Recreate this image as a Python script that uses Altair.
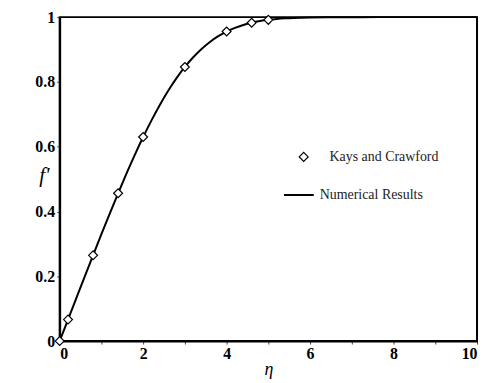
import altair as alt
import pandas as pd

# Numerical results (curve)
eta_num = [0, 0.2, 0.4, 0.6, 0.8, 1.0, 1.2, 1.4, 1.6, 1.8, 2.0, 2.2, 2.4, 2.6, 2.8,
           3.0, 3.2, 3.4, 3.6, 3.8, 4.0, 4.2, 4.4, 4.6, 4.8, 5.0, 5.2, 5.4, 5.6,
           5.8, 6.0, 6.4, 6.8, 7.2, 8.0, 9.0, 10.0]
fp_num = [0, 0.06641, 0.13277, 0.19894, 0.26471, 0.32979, 0.39378, 0.45627,
          0.51676, 0.57477, 0.62977, 0.68132, 0.72899, 0.77246, 0.81152,
          0.84605, 0.87609, 0.90177, 0.92333, 0.94112, 0.95552, 0.96696,
          0.97587, 0.98269, 0.98779, 0.99155, 0.99425, 0.99616, 0.99748,
          0.99838, 0.99898, 0.99961, 0.99987, 0.99996, 1.0, 1.0, 1.0]

# Kays and Crawford points
eta_kc = [0, 0.2, 0.8, 1.4, 2.0, 3.0, 4.0, 4.6, 5.0]
fp_kc = [0, 0.0664, 0.2647, 0.4563, 0.6298, 0.8461, 0.9555, 0.9827, 0.9916]

x_ticks = list(range(0, 11))
y_ticks = [i / 10 for i in range(0, 11)]

df_num = pd.DataFrame({"eta": eta_num, "fp": fp_num, "src": "Numerical Results"})
df_kc = pd.DataFrame({"eta": eta_kc, "fp": fp_kc, "src": "Kays and Crawford"})

W, H = 420, 326
serif = "Liberation Serif"

x_enc = alt.X("eta:Q", scale=alt.Scale(domain=[0, 10], nice=False),
              axis=alt.Axis(values=x_ticks, title="η", format="d",
                            labelExpr="datum.value % 2 == 0 ? datum.label : ''",
                            titleFontStyle="italic", titleFontWeight="normal",
                            titleFontSize=18, titlePadding=-1))
y_enc = alt.Y("fp:Q", scale=alt.Scale(domain=[0, 1], nice=False),
              axis=alt.Axis(values=y_ticks, title="f'", format="~g",
                            labelExpr="round(datum.value * 10) % 2 == 0 ? datum.label : ''",
                            titleAngle=0, titleX=-16, titleY=H * 0.49,
                            titleAlign="center", titleBaseline="middle",
                            titleFontStyle="italic", titleFontWeight="normal",
                            titleFontSize=21))

line = alt.Chart(df_num).mark_line(strokeWidth=2, interpolate="monotone").encode(
    x=x_enc, y=y_enc,
    color=alt.Color("src:N", scale=alt.Scale(range=["black"]),
                    legend=alt.Legend(title=None, orient="none",
                                      legendX=W * 0.535, legendY=H * 0.5,
                                      symbolType="stroke", symbolSize=900,
                                      symbolStrokeWidth=2, labelOffset=5,
                                      padding=0, labelFont=serif,
                                      labelFontSize=14, labelColor="#222")),
)

# Points: white-filled diamonds; legend on the stroke channel so its symbol is drawn
pts = alt.Chart(df_kc).mark_point(filled=False, fill="white", strokeWidth=1.2,
                                  size=80, opacity=1, shape="diamond").encode(
    x="eta:Q", y="fp:Q",
    stroke=alt.Stroke("src:N", scale=alt.Scale(range=["black"]),
                      legend=alt.Legend(title=None, orient="none",
                                        legendX=W * 0.568, legendY=H * 0.41,
                                        symbolType="diamond", symbolSize=80,
                                        symbolFillColor="white",
                                        symbolStrokeWidth=1.2, labelOffset=19,
                                        padding=0, labelFont=serif,
                                        labelFontSize=14, labelColor="#222")),
)

chart = (line + pts).resolve_scale(color="independent", stroke="independent").properties(
    width=W, height=H, background="white",
    padding={"left": 27, "top": 0, "right": 0, "bottom": 0}
).configure_view(
    stroke="black", strokeWidth=2
).configure_axis(
    grid=False, domainColor="black", domainWidth=2, tickColor="#444",
    tickSize=3, tickWidth=1, labelFont=serif, labelFontWeight="bold",
    labelFontSize=16, labelColor="black", labelPadding=2,
    titleFont=serif, titleColor="black"
)

chart.save("out.html", embed_options={"renderer": "svg", "actions": False})
